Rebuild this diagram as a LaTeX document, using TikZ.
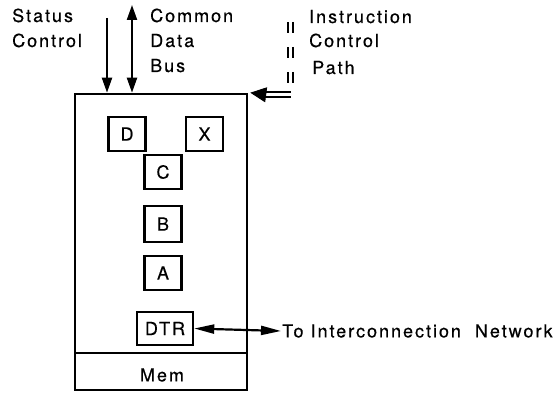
\documentclass[tikz,border=0pt]{standalone}
\usepackage{fontspec}
\setmainfont{TeX Gyre Heros}[LetterSpace=11,FakeBold=0.4]
\usetikzlibrary{arrows.meta}
\begin{document}
\begin{tikzpicture}[x=1pt,y=-1pt,
  every node/.style={font=\fontsize{18}{25}\selectfont},
  lbl/.style={anchor=base west,inner sep=0pt},
  reg/.style={draw,line width=2.4pt,minimum width=37pt,minimum height=34pt,inner sep=0pt},
  conn/.style={line width=2.2pt},
  tip/.style={-{Triangle[length=15pt,width=10pt]}},
  dtip/.style={{Triangle[length=15pt,width=10pt]}-{Triangle[length=15pt,width=10pt]}},
  ntip/.style={{Triangle[length=20pt,width=9pt]}-{Triangle[length=20pt,width=9pt]}}]
\useasboundingbox (0,0) rectangle (560,393);
% main unit
\node[draw,line width=2.6pt,minimum width=172pt,minimum height=296pt,inner sep=0pt] (main) at (161,242) {};
\coordinate (divL) at (75,353);
\coordinate (divR) at (247,353);
\draw[line width=2.4pt] (divL) -- (divR);
\node (mem) at (162,375) {Mem};
% registers
\node[reg] (D) at (127,134) {D};
\node[reg] (X) at (204.5,134) {X};
\node[reg] (C) at (163,172) {C};
\node[reg,minimum height=36pt] (B) at (163,224) {B};
\node[reg] (A) at (163,273) {A};
\node[reg,minimum width=56pt,minimum height=33pt] (DTR) at (165,328.5) {DTR};
% labels
\node[lbl] (s1) at (12,22) {Status};
\node[lbl] (s2) at (12,47) {Control};
\node[lbl] (c1) at (150,22) {Common};
\node[lbl] (c2) at (150,47) {Data};
\node[lbl] (c3) at (150,72) {Bus};
\node[lbl] (i1) at (309,23) {Instruction};
\node[lbl] (i2) at (309,47) {Control};
\node[lbl] (i3) at (312,74) {Path};
\node[anchor=west,inner sep=1pt] (net) at (281,331) {To Interconnection\ \ Network};
% status control arrow
\coordinate (st) at (107,18);
\draw[conn,tip] (st) -- (st |- main.north);
% common data bus
\coordinate (cdb) at (132,5);
\draw[conn,dtip] (cdb) -- (cdb |- main.north);
% instruction control path
\coordinate (ip) at (290.5,22);
\coordinate (ipc) at (290.5,94.5);
\coordinate (iph) at (264,94.5);
\draw[double,line width=1.8pt,double distance=2.5pt,dash pattern=on 11pt off 14pt] (ip) -- (ipc);
\draw[double,line width=1.8pt,double distance=2.5pt] (ipc) -- (iph);
\draw[line width=1pt,-{Triangle[length=16pt,width=15pt]}] (iph) -- ([xshift=2pt]main.north east);
% DTR to network
\draw[conn,ntip] (DTR.east) -- (net.west);
\end{tikzpicture}
\end{document}
